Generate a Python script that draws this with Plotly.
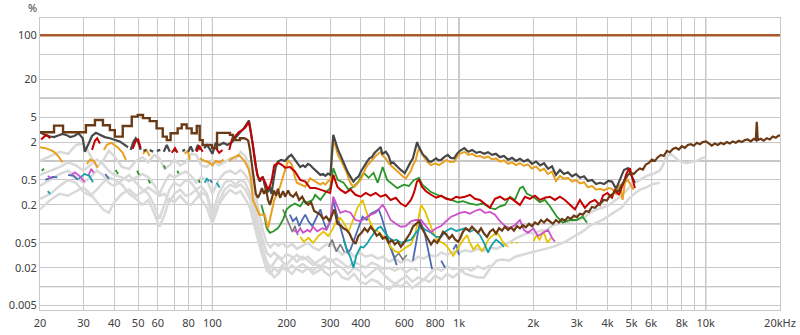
import plotly.graph_objects as go

# ---------------- data: (frequency Hz, distortion %) ----------------
FUNDAMENTAL = [(20, 100), (20000, 100)]

BROWN_LOW = [(20, 2.86), (22.8, 3.65), (24.8, 2.86), (30.7, 3.7), (33.4, 4.5), (36.0, 3.7), (38.4, 3.1),
             (40.2, 2.44), (43.3, 3.6), (47.1, 5.07), (49.8, 5.4), (52.3, 4.8), (55.7, 4.3), (59.4, 3.3),
             (62.9, 2.44), (65.3, 2.15), (67.7, 2.76), (72.3, 3.3), (75.1, 3.8), (78.6, 3.3), (82.4, 2.76),
             (86.4, 3.6), (88.8, 2.15), (91.3, 1.8), (99.6, 1.6), (104.4, 2.8), (117.8, 2.6), (121.1, 2.15),
             (129.3, 2.3), (135.5, 2.3)]

BROWN = [(135.5, 2.3), (139.7, 2.1), (141.9, 1.5), (144.6, 0.9), (147.3, 0.5), (150, 0.3), (152.9, 0.26),
         (155.8, 0.3), (158.7, 0.37), (161.8, 0.3), (164.8, 0.36), (168, 0.24), (171.1, 0.2), (174.4, 0.26),
         (177.7, 0.34), (181, 0.28), (184.4, 0.36), (188, 0.26), (193.4, 0.33), (197.1, 0.27), (202.7, 0.34),
         (206.5, 0.29), (212.4, 0.27), (218.5, 0.31), (224.7, 0.24), (231.1, 0.27), (237.7, 0.22), (244.5, 0.2),
         (251.4, 0.22), (258.6, 0.16), (266, 0.15), (273.7, 0.14), (281.6, 0.12), (289.6, 0.13), (297.9, 0.11),
         (306.4, 0.14), (312.3, 0.17), (321.2, 0.1), (330.3, 0.095), (339.8, 0.085), (349.5, 0.08), (359.5, 0.07),
         (369.8, 0.055), (380.3, 0.048), (391.2, 0.065), (402.4, 0.072), (413.9, 0.085), (425.8, 0.075),
         (437.9, 0.09), (450.5, 0.078), (463.4, 0.065), (476.6, 0.07), (490.2, 0.058), (504.2, 0.062),
         (518.7, 0.05), (533.5, 0.055), (548.8, 0.047), (564.5, 0.052), (580.5, 0.043), (597.2, 0.05),
         (614.3, 0.058), (631.9, 0.07), (649.9, 0.09), (668.4, 0.1), (687.6, 0.11), (707.3, 0.085),
         (727.5, 0.07), (748.3, 0.055), (769.6, 0.047), (791.8, 0.055), (814.4, 0.05), (837.7, 0.06),
         (861.7, 0.075), (886.2, 0.068), (911.7, 0.058), (937.8, 0.066), (964.6, 0.056), (992.2, 0.052),
         (1008, 0.058), (1037, 0.075), (1066, 0.085), (1097, 0.078), (1128, 0.09), (1160, 0.08), (1193, 0.072),
         (1227, 0.085), (1262, 0.07), (1298, 0.062), (1334, 0.075), (1373, 0.082), (1412, 0.07), (1452, 0.085),
         (1493, 0.078), (1534, 0.09), (1579, 0.08), (1623, 0.088), (1669, 0.078), (1717, 0.092), (1765, 0.085),
         (1815, 0.095), (1867, 0.088), (1920, 0.1), (1975, 0.092), (2030, 0.105), (2088, 0.098), (2148, 0.115),
         (2209, 0.105), (2272, 0.118), (2335, 0.11), (2401, 0.1), (2469, 0.115), (2540, 0.105), (2612, 0.12),
         (2685, 0.112), (2761, 0.128), (2840, 0.12), (2920, 0.135), (3003, 0.128), (3089, 0.145), (3176, 0.14),
         (3266, 0.16), (3359, 0.155), (3454, 0.185), (3553, 0.18), (3653, 0.2), (3757, 0.215), (3864, 0.24),
         (3973, 0.235), (4086, 0.28), (4202, 0.3), (4321, 0.34), (4444, 0.33), (4570, 0.42), (4700, 0.5),
         (4833, 0.6), (4970, 0.65), (5111, 0.62), (5256, 0.7), (5406, 0.76), (5559, 0.73), (5717, 0.88),
         (5879, 0.93), (6046, 1.05), (6218, 1.0), (6394, 1.15), (6576, 1.25), (6762, 1.2), (6954, 1.45),
         (7152, 1.38), (7355, 1.55), (7563, 1.62), (7778, 1.52), (7999, 1.72), (8226, 1.62), (8459, 1.8),
         (8700, 1.85), (8946, 1.75), (9200, 1.95), (9462, 1.85), (9730, 2.0), (10006, 2.05), (10290, 1.9),
         (10582, 1.75), (10883, 1.9), (11192, 1.8), (11510, 1.95), (11837, 1.85), (12173, 2.0), (12518, 1.9),
         (12874, 2.05), (13240, 1.95), (13616, 2.1), (14002, 2.0), (14399, 2.15), (14808, 2.2), (15228, 2.05),
         (15660, 2.25), (15953, 2.15), (16100, 4.2), (16251, 2.15), (16712, 2.25), (17186, 2.1), (17674, 2.3),
         (18181, 2.2), (18697, 2.45), (19228, 2.35), (19773, 2.55), (20000, 2.5)]

DARKGRAY = [(20, 2.86), (21, 2.6), (22, 2.45), (22.8, 2.4), (23.7, 2.55), (24.7, 2.7), (25.5, 2.6), (26.5, 2.4),
            (27.5, 2.5), (28.7, 2.75), (29.8, 2.3), (30.4, 1.4), (31.3, 1.8), (32.5, 2.5), (33.7, 2.8), (35, 2.6),
            (36.6, 2.4), (38.4, 2.3), (40.2, 2.15), (42.1, 2.05), (44.1, 1.8), (45.5, 1.65), (None, None),
            (46.6, 1.5), (47.8, 2.0), (48.9, 2.3), (50, 2.0), (51.2, 1.5), (None, None),
            (52.5, 1.45), (54, 1.5), (None, None), (55.7, 1.5), (57.5, 1.4), (None, None),
            (59.5, 1.45), (61.5, 1.5), (None, None), (63.5, 1.4), (65.3, 1.8), (67.2, 1.4), (None, None),
            (69.5, 1.5), (71.5, 1.45), (None, None), (75.5, 1.45), (77.5, 1.5), (None, None),
            (79.8, 1.4), (81.7, 1.7), (83.5, 1.4), (None, None), (85.5, 1.45), (87.3, 1.8), (89.5, 1.5),
            (None, None), (92.5, 1.6), (95, 1.8), (97.5, 1.55), (100, 1.3), (103, 1.9), (107, 1.8), (111, 1.95),
            (115, 1.8), (120, 2.0), (124.5, 2.4), (129, 2.8), (134, 3.3), (137.6, 3.9), (140.6, 4.4),
            (143.5, 2.75), (146, 1.67), (150, 0.8), (153, 0.56), (155.8, 0.47), (157.7, 0.53), (160, 0.56),
            (164, 0.37), (168, 0.32), (171, 0.39), (173.5, 0.3), (177, 0.5), (180.5, 0.8), (184, 0.97),
            (190, 1.04), (197, 1.0), (203, 1.15), (209, 1.25), (216, 1.04), (221, 0.9), (227, 0.8), (233, 0.85),
            (238, 0.8), (244, 0.9), (249, 0.86), (255, 0.78), (261, 0.72), (268, 0.66), (274, 0.6), (281, 0.62),
            (287, 0.58), (294, 0.63), (301, 0.6), (309, 2.6), (318, 1.8), (324, 1.45), (330, 1.25), (338, 1.0),
            (346, 0.86), (354, 0.66), (363, 0.56), (373, 0.47), (382, 0.53), (391, 0.56), (400, 0.68),
            (410, 0.8), (417, 0.92), (423, 0.97), (433, 1.1), (443, 1.15), (455, 1.35), (466, 1.5), (475, 1.6),
            (481, 1.67), (488, 1.3), (495, 1.35), (505, 1.4), (518, 1.2), (530, 0.92), (540, 0.95), (550, 0.88),
            (565, 0.78), (580, 0.72), (592, 0.68), (602, 0.64), (612, 0.72), (620, 0.8), (635, 0.95), (650, 1.1),
            (663, 1.5), (676, 2.0), (686, 1.7), (696, 1.5), (715, 1.25), (734, 1.15), (752, 1.0), (770, 0.97),
            (790, 1.05), (807, 1.1), (826, 1.02), (846, 1.04), (870, 1.15), (900, 1.25), (925, 1.12), (955, 1.1),
            (980, 1.3), (1008, 1.45), (1050, 1.6), (1090, 1.4), (1130, 1.5), (1175, 1.35), (1215, 1.4),
            (1265, 1.3), (1310, 1.38), (1360, 1.25), (1410, 1.3), (1465, 1.15), (1520, 1.2), (1580, 1.05),
            (1640, 1.12), (1700, 1.0), (1765, 1.08), (1830, 0.98), (1900, 1.05), (1975, 0.9), (2050, 0.98),
            (2130, 0.85), (2210, 0.92), (2295, 0.75), (2380, 0.82), (2470, 0.6), (2565, 0.72), (2660, 0.62),
            (2760, 0.66), (2870, 0.57), (2980, 0.62), (3090, 0.54), (3210, 0.57), (3330, 0.48), (3460, 0.5),
            (3590, 0.43), (3730, 0.45), (3870, 0.43), (4020, 0.48), (4170, 0.47), (4330, 0.36), (4490, 0.5),
            (4660, 0.72), (4830, 0.77), (5000, 0.58), (5160, 0.45)]

ORANGE = [(20, 1.65), (21, 1.6), (22, 1.5), (22.8, 1.4), (23.7, 1.2), (24.7, 0.95), (None, None),
          (31, 0.9), (31.9, 1.05), (33.1, 1.0), (34.3, 0.78), (None, None),
          (36.3, 1.5), (37.3, 1.8), (38.8, 1.95), (41.2, 1.67), (43.3, 1.35), (44.6, 1.04), (None, None),
          (52.3, 1.3), (54, 1.5), (55.7, 1.2), (None, None), (77.2, 1.3), (79.4, 1.45), (81, 1.05), (None, None),
          (88.8, 1.1), (93, 1.0), (97, 0.95), (100, 0.85), (103, 1.0), (107, 0.95), (111, 1.05), (None, None),
          (117, 1.0), (120, 1.1), (128, 1.25), (135, 1.0), (140, 0.75), (143.5, 0.5), (146, 0.24), (150, 0.19),
          (155, 0.14), (163, 0.14), (168, 0.085), (172, 0.13), (178, 0.24), (183, 0.3), (188, 0.39), (193, 0.55),
          (197, 0.72), (203, 1.04), (206, 0.95), (209, 0.9), (212, 0.77), (216, 0.55), (220, 0.45), (227, 0.42),
          (238, 0.39), (249, 0.53), (261, 0.47), (268, 0.44), (274, 0.42), (281, 0.45), (287, 0.42), (294, 0.47),
          (301, 0.5), (309, 2.3), (318, 1.5), (324, 1.2), (333, 1.0), (342, 0.8), (351, 0.64), (358, 0.5),
          (366, 0.42), (377, 0.39), (388, 0.45), (399, 0.5), (409, 0.62), (418, 0.77), (428, 0.88), (437, 0.97),
          (448, 1.05), (459, 1.2), (470, 1.3), (481, 1.4), (492, 1.2), (504, 1.1), (520, 0.9), (543, 0.77),
          (560, 0.68), (580, 0.6), (594, 0.56), (608, 0.53), (622, 0.6), (638, 0.7), (652, 0.88), (668, 1.04),
          (678, 1.35), (688, 1.6), (698, 1.4), (710, 1.25), (728, 1.05), (745, 0.95), (770, 0.86), (800, 0.92),
          (830, 0.86), (860, 0.95), (890, 1.04), (920, 0.96), (955, 0.97), (980, 1.15), (1008, 1.3), (1050, 1.4),
          (1090, 1.25), (1130, 1.3), (1175, 1.18), (1215, 1.2), (1265, 1.12), (1310, 1.18), (1360, 1.06),
          (1410, 1.1), (1465, 0.98), (1520, 1.02), (1580, 0.9), (1640, 0.95), (1700, 0.86), (1765, 0.92),
          (1830, 0.84), (1900, 0.88), (1975, 0.76), (2050, 0.82), (2130, 0.7), (2210, 0.75), (2295, 0.62),
          (2380, 0.68), (2470, 0.48), (2565, 0.58), (2660, 0.52), (2760, 0.54), (2870, 0.47), (2980, 0.5),
          (3090, 0.44), (3210, 0.46), (3330, 0.38), (3460, 0.4), (3590, 0.35), (3730, 0.36), (3870, 0.34),
          (4020, 0.37), (4170, 0.36), (4330, 0.3), (4490, 0.42), (4600, 0.24), (4700, 0.45), (4830, 0.5),
          (5000, 0.4), (5100, 0.35)]

RED = [(20.2, 2.2), (21.2, 2.6), (22, 2.3), (None, None),
       (32.5, 1.5), (33.4, 2.1), (34.1, 2.3), (35, 1.9), (None, None),
       (47.5, 1.55), (48.9, 2.1), (50, 2.2), (51.2, 1.6), (None, None),
       (68.4, 1.35), (70.5, 1.6), (72.2, 1.35), (None, None),
       (86.4, 1.4), (88.4, 1.75), (91.3, 1.4), (None, None),
       (103.4, 1.6), (106.5, 1.35), (110, 1.5), (None, None),
       (117, 1.5), (120, 2.2), (124, 2.5), (128, 2.9), (132, 3.1), (136, 3.4), (140.6, 4.2), (143, 3.0),
       (146, 1.8), (149, 1.0), (152, 0.6), (156, 0.5), (160, 0.55), (164, 0.45), (168, 0.35), (171, 0.4),
       (174, 0.5), (178, 0.85), (185, 0.93), (192, 0.86), (197, 0.78), (206.5, 0.8), (216, 0.68), (227, 0.5),
       (238, 0.47), (249, 0.37), (261, 0.37), (274, 0.35), (287, 0.33), (300, 0.31), (309, 0.6), (321, 0.39),
       (330, 0.35), (346, 0.31), (363, 0.35), (380, 0.29), (399, 0.27), (418, 0.31), (438, 0.28), (459, 0.31),
       (481, 0.27), (504, 0.29), (528, 0.24), (554, 0.26), (580, 0.21), (608, 0.19), (638, 0.24), (656, 0.31),
       (675, 0.47), (688, 0.5), (707, 0.39), (734, 0.33), (770, 0.29), (807, 0.26), (846, 0.28), (886, 0.25),
       (929, 0.24), (974, 0.27), (1008, 0.26), (1057, 0.27), (1107, 0.29), (1160, 0.25), (1215, 0.24),
       (1273, 0.21), (1334, 0.18), (1398, 0.25), (1465, 0.27), (1534, 0.24), (1608, 0.26), (1684, 0.23),
       (1765, 0.2), (1849, 0.27), (1937, 0.25), (2030, 0.28), (2127, 0.24), (2228, 0.26), (2335, 0.27),
       (2446, 0.24), (2563, 0.27), (2685, 0.24), (2813, 0.2), (2948, 0.17), (3089, 0.24), (3236, 0.18),
       (3391, 0.22), (3553, 0.24), (3722, 0.2), (3832, 0.28), (3993, 0.31), (4165, 0.26), (4281, 0.35),
       (4444, 0.29), (4613, 0.42), (4788, 0.65), (4925, 0.77), (5063, 0.47), (5160, 0.37)]

GREEN = [(20.3, 0.7), (20.8, 0.75), (None, None), (40.5, 0.72), (41.5, 0.62), (None, None),
         (49.5, 0.7), (50.5, 0.6), (None, None), (55, 0.5), (56, 0.44), (None, None),
         (63.5, 0.85), (64.5, 0.75), (None, None), (72, 0.7), (73, 0.63), (None, None),
         (88, 0.5), (89, 0.45), (None, None),
         (158, 0.2), (162, 0.14), (166, 0.085), (171, 0.072), (177, 0.076), (184, 0.085), (188, 0.096),
         (194, 0.12), (200, 0.17), (206.5, 0.19), (216, 0.21), (227, 0.19), (234, 0.23), (243, 0.22), (255, 0.24),
         (261, 0.29), (274, 0.24), (287, 0.31), (300, 0.37), (309, 0.77), (322, 0.5), (340, 0.45), (356, 0.35),
         (373, 0.39), (391, 0.47), (410, 0.65), (430, 0.54), (450, 0.65), (468, 0.45), (490, 0.8), (511, 0.5),
         (536, 0.43), (562, 0.37), (597, 0.42), (626, 0.4), (656, 0.5), (688, 0.54), (710, 0.42), (734, 0.37),
         (770, 0.32), (815, 0.29), (870, 0.26), (929, 0.24), (989, 0.22), (1037, 0.23), (1107, 0.21),
         (1183, 0.2), (1248, 0.21), (1334, 0.18), (1398, 0.17), (1465, 0.19), (1534, 0.2), (1608, 0.27),
         (1684, 0.24), (1765, 0.37), (1815, 0.39), (1886, 0.3), (2000, 0.27), (2127, 0.22), (2228, 0.24),
         (2335, 0.19), (2490, 0.13), (2636, 0.104), (2813, 0.115), (2990, 0.115), (3170, 0.13), (3300, 0.104)]

MAGENTA = [(21.5, 0.58), (22.3, 0.52), (None, None), (26.8, 0.6), (27.7, 0.66), (29.2, 0.56), (30.3, 0.46),
           (None, None), (31.5, 0.6), (32.3, 0.75), (33, 0.65), (None, None),
           (214, 0.08), (221, 0.072), (227, 0.085), (233, 0.072), (243, 0.08), (249, 0.075), (256, 0.09),
           (266, 0.076), (279, 0.085), (290, 0.08), (301, 0.115), (309, 0.27), (321, 0.19), (330, 0.15),
           (346, 0.16), (363, 0.15), (380, 0.115), (399, 0.11), (418, 0.125), (438, 0.14), (459, 0.15),
           (476, 0.18), (490, 0.2), (504, 0.17), (528, 0.115), (554, 0.1), (580, 0.09), (608, 0.092),
           (638, 0.11), (668, 0.115), (701, 0.115), (734, 0.092), (770, 0.074), (807, 0.085), (846, 0.092),
           (886, 0.11), (929, 0.13), (974, 0.14), (1008, 0.15), (1057, 0.155), (1107, 0.145), (1160, 0.16),
           (1215, 0.17), (1273, 0.15), (1334, 0.155), (1398, 0.14), (1465, 0.11), (1534, 0.092), (1608, 0.085),
           (1684, 0.096), (1765, 0.115), (1832, 0.08), (1902, 0.072), (2000, 0.085), (2088, 0.064),
           (2188, 0.072), (2293, 0.08), (2380, 0.06), (2446, 0.052)]

TEAL = [(28.7, 0.52), (30.3, 0.62), (31.7, 0.58), (32.8, 0.46), (None, None),
        (21.5, 0.33), (22, 0.3), (None, None), (104, 0.45), (107, 0.38), (None, None),
        (93, 0.45), (95, 0.52), (97, 0.48), (None, None),
        (340, 0.056), (351, 0.039), (363, 0.029), (373, 0.02), (384, 0.032), (399, 0.043), (410, 0.042),
        (426, 0.05), (438, 0.06), (455, 0.075), (468, 0.085), (481, 0.09), (499, 0.075), (519, 0.06),
        (540, 0.054), (558, 0.056), (580, 0.05), (608, 0.053), (638, 0.056), (668, 0.072), (701, 0.09),
        (734, 0.08), (770, 0.072), (807, 0.062), (846, 0.062), (886, 0.077), (929, 0.085), (974, 0.077),
        (1008, 0.08), (1057, 0.085), (1107, 0.075), (1160, 0.082), (1215, 0.066), (1262, 0.05), (1310, 0.035),
        (1360, 0.047), (1412, 0.056), (1465, 0.05), (1520, 0.043)]

YELLOW = [(227, 0.062), (235, 0.052), (245, 0.06), (256, 0.05), (269, 0.064), (282, 0.075), (295, 0.064),
          (306, 0.08), (318, 0.11), (330, 0.125), (343, 0.1), (356, 0.074), (370, 0.11), (387, 0.18),
          (406, 0.24), (418, 0.17), (434, 0.11), (450, 0.082), (468, 0.077), (490, 0.064), (509, 0.056),
          (528, 0.043), (548, 0.037), (570, 0.035), (591, 0.039), (614, 0.043), (638, 0.047), (662, 0.066),
          (681, 0.11), (701, 0.2), (727, 0.16), (755, 0.11), (784, 0.074), (815, 0.056), (846, 0.052),
          (878, 0.047), (912, 0.039), (947, 0.031), (974, 0.037), (1002, 0.045), (1040, 0.056), (1080, 0.066),
          (1100, 0.052), (1144, 0.039), (1190, 0.047), (1238, 0.037), (1273, 0.043), (1321, 0.058),
          (1373, 0.066), (1425, 0.072), (1465, 0.062), (1520, 0.048), (1580, 0.043), (None, None),
          (1620, 0.05), (1650, 0.05), (None, None), (1700, 0.05), (1730, 0.05), (None, None),
          (2000, 0.052), (2060, 0.066), (2120, 0.056), (2200, 0.075), (2280, 0.05), (2360, 0.06)]

BLUE = [(21, 0.5), (22.5, 0.56), (23.5, 0.55), (None, None), (26, 0.6), (27.3, 0.58), (28.5, 0.5), (None, None),
        (36.8, 0.62), (38, 0.52), (None, None), (98, 0.5), (99.5, 0.45), (None, None),
        (206, 0.14), (212, 0.11), (219, 0.125), (225, 0.092), (231, 0.115), (238, 0.14), (245, 0.11),
        (254, 0.092), (264, 0.125), (274, 0.17), (282, 0.11), (290, 0.082), (301, 0.11), (309, 0.24),
        (318, 0.15), (330, 0.09), (343, 0.05), (353, 0.035), (363, 0.039), (377, 0.06), (391, 0.092),
        (406, 0.13), (422, 0.115), (438, 0.145), (455, 0.155), (472, 0.17), (486, 0.125), (499, 0.085),
        (513, 0.06), (528, 0.042), (544, 0.03), (559, 0.022), (None, None),
        (650, 0.026), (675, 0.056), (694, 0.11), (721, 0.08), (748, 0.039), (777, 0.019), (None, None),
        (846, 0.026), (878, 0.02), (None, None), (947, 0.039), (974, 0.047), (1000, 0.032)]

GRAY9 = [(193, 0.17), (199, 0.125), (205, 0.092), (211, 0.074), (216, 0.092), (222, 0.066), (None, None),
         (296, 0.043), (306, 0.056), (318, 0.036), (330, 0.047), (343, 0.035), (None, None),
         (509, 0.056), (528, 0.039), (548, 0.029), (570, 0.034), (591, 0.027), (614, 0.032)]

LG1 = [(20, 1.0), (22, 1.2), (24, 1.4), (26, 1.3), (28, 1.8), (30, 1.9), (32, 1.2), (34, 0.8), (36, 1.0),
       (38, 1.45), (40, 1.2), (43, 0.8), (46, 0.75), (49, 1.0), (52, 1.15), (55, 0.95), (58, 1.25), (61, 1.1),
       (64, 0.75), (67, 0.85), (70, 1.05), (74, 0.85), (78, 0.95), (82, 1.3), (86, 1.25), (90, 0.85), (95, 0.8),
       (100, 1.05), (106, 0.85), (112, 0.95), (118, 1.1), (124, 1.05), (130, 1.4), (136, 1.2), (142, 0.75),
       (148, 0.35), (154, 0.16), (160, 0.08), (166, 0.05), (172, 0.042), (178, 0.05), (185, 0.045),
       (192, 0.05), (200, 0.042), (210, 0.048), (220, 0.04), (232, 0.045), (244, 0.05), (256, 0.042),
       (270, 0.038), (285, 0.045), (300, 0.05), (318, 0.04), (336, 0.032), (355, 0.038), (375, 0.03),
       (396, 0.035), (418, 0.03), (442, 0.032), (467, 0.028), (493, 0.03), (520, 0.025), (550, 0.028),
       (580, 0.024), (612, 0.027), (646, 0.025), (682, 0.03), (720, 0.028), (760, 0.032), (802, 0.03),
       (847, 0.035), (894, 0.032), (944, 0.036), (1000, 0.035), (1060, 0.038), (1120, 0.036), (1190, 0.04),
       (1260, 0.037), (1340, 0.042), (1420, 0.04), (1500, 0.045), (1590, 0.05), (1690, 0.058), (1790, 0.065),
       (1900, 0.072), (2010, 0.07), (2130, 0.078), (2260, 0.08), (2400, 0.095), (2540, 0.1), (2700, 0.105),
       (2860, 0.11), (3030, 0.115), (3210, 0.125), (3400, 0.15), (3610, 0.17), (3820, 0.18), (4050, 0.2),
       (4300, 0.24), (4550, 0.28), (4830, 0.36), (5120, 0.44), (5420, 0.5), (5750, 0.58), (6100, 0.62),
       (6300, 0.65), (6500, 0.7), (6700, 0.85), (6900, 1.15), (7200, 1.3), (7500, 1.15), (7800, 1.0),
       (8100, 0.95), (8400, 0.92), (8800, 0.97), (9200, 1.0), (9600, 1.1), (10000, 1.15)]

LG2 = [(20, 0.4), (22, 0.5), (24, 0.62), (26, 0.7), (28, 0.55), (30, 0.45), (32, 0.55), (34, 0.7), (36, 0.6),
       (38, 0.45), (40, 0.4), (43, 0.5), (46, 0.6), (49, 0.45), (52, 0.35), (55, 0.3), (58, 0.2), (61, 0.12),
       (64, 0.2), (67, 0.35), (70, 0.45), (74, 0.4), (78, 0.5), (82, 0.45), (86, 0.35), (90, 0.4), (95, 0.3),
       (100, 0.15), (106, 0.3), (112, 0.45), (118, 0.5), (124, 0.42), (130, 0.5), (136, 0.45), (142, 0.3),
       (148, 0.15), (154, 0.07), (160, 0.04), (166, 0.025), (172, 0.02), (178, 0.024), (185, 0.03),
       (192, 0.025), (200, 0.022), (210, 0.028), (220, 0.032), (232, 0.027), (244, 0.03), (256, 0.025),
       (270, 0.02), (285, 0.024), (300, 0.028), (318, 0.022), (336, 0.02), (355, 0.016), (375, 0.02),
       (396, 0.018), (418, 0.014), (442, 0.017), (467, 0.02), (493, 0.016), (520, 0.013), (550, 0.011),
       (580, 0.013), (612, 0.015), (646, 0.012), (682, 0.014), (720, 0.013), (760, 0.016), (802, 0.02),
       (847, 0.018), (894, 0.021), (944, 0.019), (1000, 0.02), (1060, 0.016), (1120, 0.015), (1190, 0.014),
       (1260, 0.014), (1340, 0.02), (1420, 0.026), (1500, 0.027), (1590, 0.026), (1690, 0.03), (1790, 0.032),
       (1900, 0.034), (2010, 0.035), (2130, 0.038), (2260, 0.04), (2400, 0.043), (2540, 0.047), (2700, 0.052),
       (2860, 0.06), (3030, 0.068), (3210, 0.078), (3400, 0.095), (3610, 0.105), (3820, 0.115), (4050, 0.135),
       (4300, 0.155), (4550, 0.18), (4830, 0.24), (5120, 0.3), (5420, 0.35), (5750, 0.38), (6100, 0.43),
       (6500, 0.45)]

LG3 = [(20, 0.17), (22, 0.24), (24, 0.3), (26, 0.28), (28, 0.33), (30, 0.38), (32, 0.3), (34, 0.22), (36, 0.17),
       (38, 0.15), (40, 0.22), (43, 0.3), (46, 0.35), (49, 0.28), (52, 0.32), (55, 0.38), (58, 0.33), (61, 0.28),
       (64, 0.3), (67, 0.22), (70, 0.3), (74, 0.35), (78, 0.28), (82, 0.3), (86, 0.35), (90, 0.25), (95, 0.18),
       (100, 0.1), (106, 0.2), (112, 0.28), (118, 0.35), (124, 0.3), (130, 0.33), (136, 0.25), (142, 0.18),
       (148, 0.09), (154, 0.05), (160, 0.03), (166, 0.018), (172, 0.016), (178, 0.02), (185, 0.017),
       (192, 0.022), (200, 0.019), (210, 0.016), (220, 0.02), (232, 0.023), (244, 0.02), (256, 0.018),
       (270, 0.022), (285, 0.017), (300, 0.015), (318, 0.018), (336, 0.014), (355, 0.013), (375, 0.016),
       (396, 0.012), (418, 0.011), (442, 0.013), (467, 0.012), (493, 0.01), (520, 0.009), (550, 0.011),
       (580, 0.01), (612, 0.012), (646, 0.0095), (682, 0.011), (720, 0.013), (760, 0.012), (802, 0.015),
       (847, 0.013), (894, 0.016), (944, 0.014), (1000, 0.017), (1060, 0.02), (1120, 0.018), (1190, 0.021),
       (1260, 0.019), (1340, 0.022)]

LG4 = [(20, 0.6), (22, 0.7), (24, 0.8), (26, 0.95), (28, 0.85), (30, 0.7), (32, 0.85), (34, 1.05), (36, 0.9),
       (38, 0.7), (40, 0.6), (43, 0.55), (46, 0.48), (49, 0.55), (52, 0.62), (55, 0.55), (58, 0.42), (61, 0.3),
       (64, 0.45), (67, 0.6), (70, 0.55), (74, 0.62), (78, 0.68), (82, 0.58), (86, 0.45), (90, 0.55), (95, 0.5),
       (100, 0.3), (106, 0.5), (112, 0.65), (118, 0.7), (124, 0.62), (130, 0.72), (136, 0.6), (142, 0.45),
       (148, 0.22), (154, 0.1), (160, 0.055), (166, 0.035), (172, 0.03), (178, 0.035), (185, 0.03), (192, 0.028),
       (200, 0.033), (210, 0.03), (220, 0.025), (232, 0.03), (244, 0.026), (256, 0.022), (270, 0.026),
       (285, 0.03), (300, 0.025), (318, 0.028), (336, 0.024), (355, 0.02), (375, 0.025), (396, 0.022),
       (418, 0.02), (442, 0.024), (467, 0.022), (493, 0.019), (520, 0.02), (550, 0.018), (580, 0.02),
       (612, 0.017), (646, 0.02), (682, 0.018)]

LG5 = [(20, 0.25), (22, 0.3), (24, 0.4), (26, 0.5), (28, 0.45), (30, 0.32), (32, 0.28), (34, 0.35), (36, 0.45),
       (38, 0.55), (40, 0.5), (43, 0.42), (46, 0.3), (49, 0.25), (52, 0.2), (55, 0.24), (58, 0.15), (61, 0.09),
       (64, 0.14), (67, 0.25), (70, 0.22), (74, 0.28), (78, 0.22), (82, 0.2), (86, 0.25), (90, 0.32), (95, 0.28),
       (100, 0.12), (106, 0.22), (112, 0.35), (118, 0.42), (124, 0.38), (130, 0.42), (136, 0.35), (142, 0.25),
       (148, 0.12), (154, 0.06), (160, 0.035), (166, 0.022), (172, 0.017), (178, 0.014), (185, 0.016),
       (192, 0.02), (200, 0.018), (210, 0.022), (220, 0.019), (232, 0.017), (244, 0.02), (256, 0.016),
       (270, 0.018), (285, 0.021), (300, 0.019)]

X_GRID = [20, 30, 40, 50, 60, 70, 80, 90, 100, 200, 300, 400, 500, 600, 700, 800, 900,
          1000, 2000, 3000, 4000, 5000, 6000, 7000, 8000, 9000, 10000, 20000]
X_TEXT = ["20", "30", "40", "50", "60", "", "80", "", "100", "200", "300", "400", "", "600", "", "800", "",
          "1k", "2k", "3k", "4k", "5k", "6k", "", "8k", "", "10k", "20kHz"]
Y_GRID = [0.005, 0.01, 0.02, 0.05, 0.1, 0.2, 0.5, 1, 2, 5, 10, 20, 50, 100]
Y_TEXT = ["0.005", "", "0.02", "0.05", "", "0.2", "0.5", "", "2", "5", "", "20", "", "100"]
X_DECADES = [100, 1000, 10000]
Y_DECADES = [0.01, 0.1, 1, 10]

# ---------------- figure ----------------
fig = go.Figure()


def add(series, color, width, shape="linear"):
    xs = [p[0] for p in series]
    ys = [p[1] for p in series]
    fig.add_trace(go.Scatter(x=xs, y=ys, mode="lines", connectgaps=False,
                             line=dict(color=color, width=width, shape=shape),
                             hoverinfo="skip", showlegend=False))


LGC = "#d9d9d9"
for s in (LG5, LG4, LG3, LG2, LG1):
    add(s, LGC, 2.5)
add(GRAY9, "#7a7a7a", 1.6)
add(BLUE, "#4a6ab4", 1.8)
add(YELLOW, "#e6c200", 1.8)
add(TEAL, "#14a0a8", 1.8)
add(MAGENTA, "#cc4fcc", 1.8)
add(GREEN, "#2a962a", 1.8)
add(ORANGE, "#e8a020", 2)
add(DARKGRAY, "#474747", 2.2)
add(RED, "#c40000", 2)
add(BROWN_LOW, "#6b3a14", 2.4, "hv")
add(BROWN, "#6b3a14", 2.2)
add(FUNDAMENTAL, "#a8582a", 2.6)

shapes = []
for xv in X_DECADES:
    shapes.append(dict(type="line", xref="x", yref="paper", x0=xv, x1=xv, y0=0, y1=1,
                       line=dict(color="#8a8a8a", width=1), layer="below"))
for yv in Y_DECADES:
    shapes.append(dict(type="line", xref="paper", yref="y", x0=0, x1=1, y0=yv, y1=yv,
                       line=dict(color="#8a8a8a", width=1), layer="below"))

FONT = "Noto Sans"
fig.update_layout(
    width=800, height=335,
    margin=dict(l=40, r=20, t=18, b=25, autoexpand=False),
    paper_bgcolor="white", plot_bgcolor="white",
    shapes=shapes,
    font=dict(family=FONT, size=11, color="#404040"),
    xaxis=dict(type="log", range=[1.30103, 4.30103], tickvals=X_GRID, ticktext=X_TEXT,
               showgrid=True, gridcolor="#c8c8c8", gridwidth=1, zeroline=False,
               showline=True, linecolor="#c8c8c8", mirror=True, ticks="",
               ticklabelstandoff=3, automargin=False,
               tickfont=dict(family=FONT, size=11, color="#404040")),
    yaxis=dict(type="log", range=[-2.371, 2.275], tickvals=Y_GRID, ticktext=Y_TEXT,
               showgrid=True, gridcolor="#c8c8c8", gridwidth=1, zeroline=False,
               showline=True, linecolor="#c8c8c8", mirror=True, ticks="", automargin=False,
               tickfont=dict(family=FONT, size=11, color="#404040")),
    annotations=[dict(text="%", xref="paper", yref="paper", x=-0.01, y=1.035,
                      xanchor="center", yanchor="middle", showarrow=False,
                      font=dict(family=FONT, size=11, color="#404040"))],
    hovermode=False,
)

fig.write_html("out.html")
